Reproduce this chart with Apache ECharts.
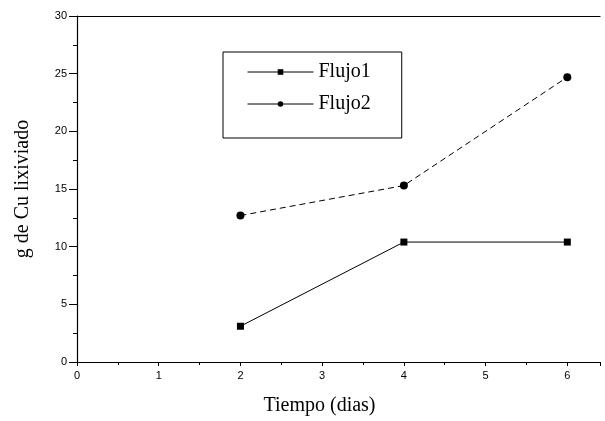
<!DOCTYPE html>
<html>
<head>
<meta charset="utf-8">
<script src="https://cdn.jsdelivr.net/npm/echarts@6/dist/echarts.min.js"></script>
<style>
  html, body { margin: 0; padding: 0; background: #fff; }
  #chart { width: 605px; height: 421px; }
</style>
</head>
<body>
<div id="chart"></div>
<script>
const dias = [2, 4, 6]
const flujo1 = [3.1, 10.4, 10.4]
const flujo2 = [12.7, 15.3, 24.7]
const seriesNames = ['Flujo1', 'Flujo2']

const chart = echarts.init(document.getElementById('chart'))

const serif = '"Liberation Serif", "DejaVu Serif", serif'
const sans = '"Liberation Sans", Arial, sans-serif'

const option = {
  animation: false,
  backgroundColor: '#fff',
  grid: {
    left: 77,
    top: 16,
    right: 5,
    bottom: 59
  },
  legend: {
    data: seriesNames,
    orient: 'vertical',
    left: 223,
    top: 52,
    padding: [10, 31, 24, 24],
    itemGap: 12,
    itemWidth: 66,
    itemHeight: 7,
    borderColor: '#000',
    borderWidth: 1,
    lineStyle: { type: 'solid', width: 1 },
    textStyle: {
      fontFamily: serif,
      fontSize: 20,
      color: '#000'
    }
  },
  xAxis: [
    {
      type: 'value',
      min: 0,
      max: 6.4,
      interval: 1,
      name: 'Tiempo (dias)',
      nameLocation: 'middle',
      nameGap: 34,
      nameTextStyle: {
        fontFamily: serif,
        fontSize: 20,
        color: '#000',
        padding: [0, 38, 0, 0]
      },
      axisLine: { show: true, lineStyle: { color: '#000', width: 1.2 } },
      axisTick: { show: true, length: 4, lineStyle: { color: '#000' } },
      minorTick: { show: true, splitNumber: 2, length: 3, lineStyle: { color: '#000' } },
      axisLabel: {
        showMaxLabel: false,
        margin: 8,
        fontFamily: sans,
        fontSize: 11,
        color: '#000'
      },
      splitLine: { show: false }
    },
    {
      type: 'value',
      position: 'top',
      min: 0,
      max: 6.4,
      axisLine: { show: true, onZero: false, lineStyle: { color: '#000', width: 1.2 } },
      axisTick: { show: false },
      axisLabel: { show: false },
      splitLine: { show: false }
    }
  ],
  yAxis: {
    type: 'value',
    min: 0,
    max: 30,
    interval: 5,
    name: 'g de Cu lixiviado',
    nameLocation: 'middle',
    nameGap: 44,
    nameTextStyle: {
      fontFamily: serif,
      fontSize: 20,
      color: '#000'
    },
    axisLine: { show: true, lineStyle: { color: '#000', width: 1.2 } },
    axisTick: { show: true, length: 8, lineStyle: { color: '#000' } },
    minorTick: { show: true, splitNumber: 2, length: 4, lineStyle: { color: '#000' } },
    axisLabel: {
      margin: 10,
      fontFamily: sans,
      fontSize: 11,
      color: '#000'
    },
    splitLine: { show: false }
  },
  series: [
    {
      name: 'Flujo1',
      type: 'line',
      data: dias.map((d, i) => [d, flujo1[i]]),
      symbol: 'rect',
      symbolSize: 7,
      itemStyle: { color: '#000' },
      lineStyle: { color: '#000', width: 1 }
    },
    {
      name: 'Flujo2',
      type: 'line',
      data: dias.map((d, i) => [d, flujo2[i]]),
      symbol: 'circle',
      symbolSize: 8,
      itemStyle: { color: '#000' },
      lineStyle: { color: '#000', width: 1, type: [6, 4] }
    }
  ]
}

chart.setOption(option)
</script>
</body>
</html>
